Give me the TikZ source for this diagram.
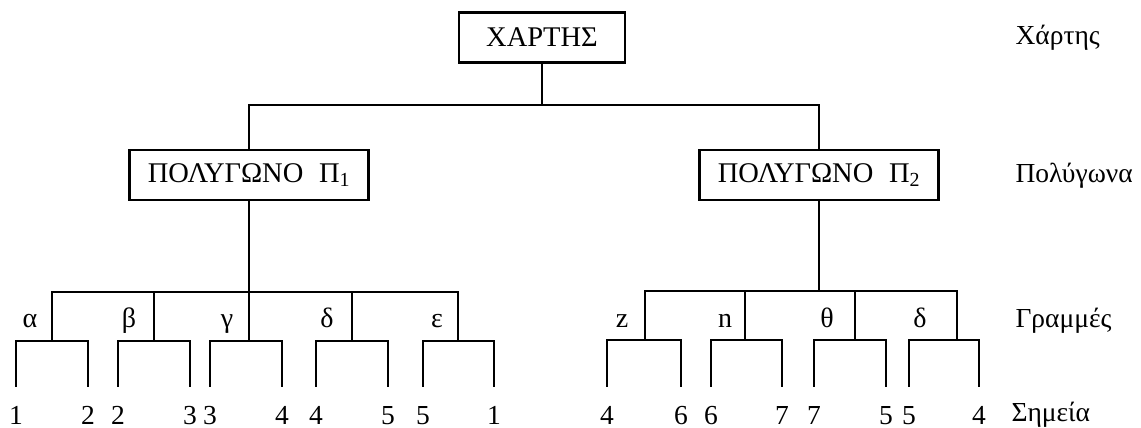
\documentclass[tikz,border=0pt]{standalone}
\usepackage{fontspec}
\setmainfont{Liberation Serif}
\usetikzlibrary{positioning}

\tikzset{
  treebox/.style={draw, line width=2.8pt, minimum height=50pt, font=\fontsize{28.5}{30}\selectfont},
  lvllabel/.style={anchor=base west, font=\fontsize{27.5}{30}\selectfont},
  seglabel/.style={anchor=base, font=\fontsize{28}{30}\selectfont},
  pnum/.style={anchor=base, font=\fontsize{27.5}{30}\selectfont, text height=18pt, text depth=0pt, inner sep=0pt},
  branch/.style={line width=2.8pt},
  bracket/.style={branch, shorten <=19pt, shorten >=19pt}
}

\begin{document}
\begin{tikzpicture}[x=1pt, y=-1pt]
  \useasboundingbox (0,0) rectangle (1141,428);

  % the three boxes
  \node[treebox, minimum width=166pt] (map) at (542,37.5) {ΧΑΡΤΗΣ};
  \node[treebox, minimum width=239pt] (polyA) at (249,175) {ΠΟΛΥΓΩΝΟ\hspace{0.55em}Π\textsubscript{1}};
  \node[treebox, minimum width=239pt] (polyB) at (819,175) {ΠΟΛΥΓΩΝΟ\hspace{0.55em}Π\textsubscript{2}};

  % level names on the right
  \node[lvllabel] (lvlmap) at (1012,45) {Χάρτης};
  \node[lvllabel] (lvlpoly) at (1012,182) {Πολύγωνα};
  \node[lvllabel] (lvlline) at (1012,327) {Γραμμές};
  \node[lvllabel] (lvlpoint) at (1008,421) {Σημεία};

  % joints
  \coordinate (split) at (542,105);
  \coordinate (barA) at (249,292);
  \coordinate (barB) at (819,291);
  \coordinate (ja) at (52,341);
  \coordinate (jb) at (154,341);
  \coordinate (jg) at (249,341);
  \coordinate (jd) at (352,341);
  \coordinate (je) at (458,341);
  \coordinate (jz) at (645,340);
  \coordinate (jn) at (745,340);
  \coordinate (jt) at (855,340);
  \coordinate (jdd) at (957,340);

  % line names
  \node[seglabel] (la) at (30,327) {α};
  \node[seglabel] (lb) at (129,327) {β};
  \node[seglabel] (lg) at (227,327) {γ};
  \node[seglabel] (ld) at (327,327) {δ};
  \node[seglabel] (le) at (437,327) {ε};
  \node[seglabel] (lz) at (622,327) {z};
  \node[seglabel] (ln) at (725,327) {n};
  \node[seglabel] (lt) at (827,327) {θ};
  \node[seglabel] (ldd) at (920,327) {δ};

  % points
  \node[pnum] (a1) at (16,424) {1};
  \node[pnum] (a2) at (88,424) {2};
  \node[pnum] (b1) at (118,424) {2};
  \node[pnum] (b2) at (190,424) {3};
  \node[pnum] (g1) at (210,424) {3};
  \node[pnum] (g2) at (282,424) {4};
  \node[pnum] (d1) at (316,424) {4};
  \node[pnum] (d2) at (388,424) {5};
  \node[pnum] (e1) at (423,424) {5};
  \node[pnum] (e2) at (494,424) {1};
  \node[pnum] (z1) at (607,424) {4};
  \node[pnum] (z2) at (681,424) {6};
  \node[pnum] (n1) at (711,424) {6};
  \node[pnum] (n2) at (782,424) {7};
  \node[pnum] (t1) at (814,424) {7};
  \node[pnum] (t2) at (886,424) {5};
  \node[pnum] (dd1) at (909,424) {5};
  \node[pnum] (dd2) at (979,424) {4};

  % tree
  \draw[branch] (map) -- (split);
  \draw[branch] (split) -| (polyA);
  \draw[branch] (split) -| (polyB);
  \draw[branch] (polyA) -- (barA);
  \draw[branch] (polyB) -- (barB);

  \draw[branch] (barA) -| (ja);
  \draw[branch] (barA) -| (jb);
  \draw[branch] (barA) -- (jg);
  \draw[branch] (barA) -| (jd);
  \draw[branch] (barA) -| (je);
  \draw[branch] (barB) -| (jz);
  \draw[branch] (barB) -| (jn);
  \draw[branch] (barB) -| (jt);
  \draw[branch] (barB) -| (jdd);

  \draw[bracket] (a1) |- (ja) -| (a2);
  \draw[bracket] (b1) |- (jb) -| (b2);
  \draw[bracket] (g1) |- (jg) -| (g2);
  \draw[bracket] (d1) |- (jd) -| (d2);
  \draw[bracket] (e1) |- (je) -| (e2);
  \draw[bracket] (z1) |- (jz) -| (z2);
  \draw[bracket] (n1) |- (jn) -| (n2);
  \draw[bracket] (t1) |- (jt) -| (t2);
  \draw[bracket] (dd1) |- (jdd) -| (dd2);
\end{tikzpicture}
\end{document}
